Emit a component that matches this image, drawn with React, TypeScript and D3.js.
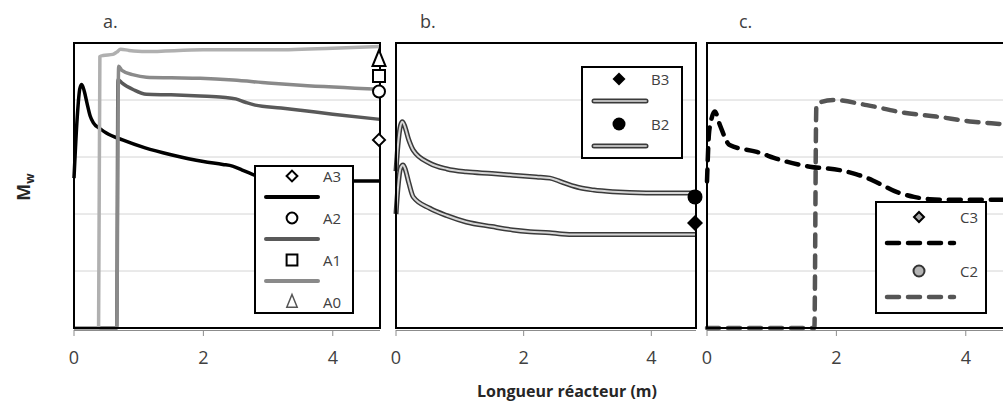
import React from "react";
import * as d3 from "d3";

// ---------- Data ----------
const panelTitles = ["a.", "b.", "c."];
const xTicks = [0, 2, 4];
const yGrid = [1, 2, 3, 4];

// Panel a
const xA3 = [0, 0.05, 0.09, 0.12, 0.16, 0.2, 0.25, 0.3, 0.4, 0.5, 0.75, 1.1, 1.5, 2.0, 2.3, 2.45, 2.6, 2.75, 2.9, 3.05, 3.2, 3.4, 4.73];
const yA3 = [2.63, 3.7, 4.2, 4.27, 4.15, 3.95, 3.72, 3.6, 3.5, 3.42, 3.3, 3.16, 3.04, 2.92, 2.87, 2.84, 2.77, 2.7, 2.64, 2.6, 2.58, 2.58, 2.58];
const xA2 = [0, 0.66, 0.68, 0.74, 0.92, 1.12, 1.5, 1.95, 2.3, 2.5, 2.65, 2.8, 3.2, 3.5, 4.0, 4.73];
const yA2 = [0, 0, 4.36, 4.3, 4.18, 4.1, 4.09, 4.07, 4.05, 4.02, 3.96, 3.91, 3.86, 3.82, 3.75, 3.66];
const xA1 = [0, 0.66, 0.69, 0.74, 0.92, 1.12, 1.5, 1.95, 2.46, 3.0, 3.5, 4.73];
const yA1 = [0, 0, 4.59, 4.52, 4.44, 4.4, 4.39, 4.38, 4.35, 4.3, 4.26, 4.19];
const xA0 = [0, 0.38, 0.4, 0.45, 0.6, 0.66, 0.72, 0.85, 1.1, 2.0, 3.0, 4.0, 4.73];
const yA0 = [0, 0, 4.76, 4.78, 4.8, 4.84, 4.89, 4.87, 4.85, 4.88, 4.88, 4.91, 4.94];
const markA = [
  { name: "A3", v: 3.3 },
  { name: "A2", v: 4.15 },
  { name: "A1", v: 4.42 },
  { name: "A0", v: 4.69 },
];

// Panel b
const xB2 = [0, 0.03, 0.07, 0.1, 0.13, 0.2, 0.27, 0.53, 0.8, 1.1, 1.5, 1.83, 2.2, 2.41, 2.55, 2.7, 2.88, 3.1, 3.4, 3.92, 4.7];
const yB2 = [2.75, 3.2, 3.55, 3.62, 3.56, 3.3, 3.12, 2.89, 2.79, 2.74, 2.71, 2.68, 2.65, 2.63, 2.58, 2.52, 2.46, 2.42, 2.39, 2.37, 2.37];
const xB3 = [0, 0.03, 0.07, 0.11, 0.14, 0.2, 0.27, 0.53, 0.8, 1.1, 1.5, 1.83, 2.1, 2.41, 2.6, 2.8, 3.2, 4.7];
const yB3 = [2.0, 2.45, 2.8, 2.86, 2.8, 2.55, 2.3, 2.1, 1.97, 1.86, 1.78, 1.72, 1.69, 1.67, 1.65, 1.64, 1.64, 1.64];
const markB = [
  { name: "B3", v: 1.84 },
  { name: "B2", v: 2.3 },
];

// Panel c
const xC3 = [0, 0.03, 0.06, 0.12, 0.2, 0.35, 0.77, 1.13, 1.59, 2.05, 2.3, 2.5, 2.72, 2.9, 3.03, 3.2, 3.44, 3.7, 4.73];
const yC3 = [2.57, 3.4, 3.62, 3.8, 3.56, 3.21, 3.09, 2.95, 2.83, 2.77, 2.7, 2.62, 2.5, 2.4, 2.35, 2.3, 2.26, 2.25, 2.25];
const xC2 = [0, 1.66, 1.69, 1.75, 1.95, 2.47, 3.03, 3.54, 4.11, 4.52, 4.73];
const yC2 = [0, 0, 3.88, 3.96, 4.0, 3.91, 3.78, 3.71, 3.62, 3.58, 3.56];
const markC = [
  { name: "C3", v: 2.25 },
  { name: "C2", v: 3.56 },
];

// ---------- Layout ----------
const W = 1003;
const H = 403;
const TOP = 43;
const BOTTOM = 328;
const yScale = d3.scaleLinear().domain([0, 5]).range([BOTTOM, TOP]);

const FONT = "'Open Sans', 'Noto Sans', sans-serif";
const TXT = "#404040";

type Pt = [number, number];
const zip = (xs: number[], ys: number[]): Pt[] => xs.map((x, i) => [x, ys[i]]);

const diamond = (r: number) => `M0,${-r}L${r},0L0,${r}L${-r},0Z`;
const square = (s: number) => `M${-s / 2},${-s / 2}h${s}v${s}h${-s}Z`;
const triangle = (w: number, h: number) => `M0,${(-2 * h) / 3}L${w / 2},${h / 3}L${-w / 2},${h / 3}Z`;
const circle = (r: number) => `M${r},0A${r},${r} 0 1,1 ${-r},0A${r},${r} 0 1,1 ${r},0Z`;

function Panel({
  x0,
  x1,
  xmax,
  title,
  titleX,
  id,
  children,
}: {
  x0: number;
  x1: number;
  xmax: number;
  title: string;
  titleX: number;
  id: string;
  children: (xs: d3.ScaleLinear<number, number>) => React.ReactNode;
}) {
  const xs = d3.scaleLinear().domain([0, xmax]).range([x0, x1]);
  return (
    <g>
      <text x={titleX} y={28} fontFamily={FONT} fontSize={18} fill={TXT}>
        {title}
      </text>
      <clipPath id={id}>
        <rect x={x0 - 3} y={TOP - 3} width={x1 - x0 + 14} height={BOTTOM - TOP + 6} />
      </clipPath>
      {yGrid.map((v) => (
        <line key={v} x1={x0} x2={x1} y1={yScale(v)} y2={yScale(v)} stroke="#d4d4d4" strokeWidth={1} />
      ))}
      <line x1={x0} x2={x1} y1={330.5} y2={330.5} stroke="#8c8c8c" strokeWidth={1} />
      {xTicks.map((t) => (
        <g key={t}>
          <line x1={xs(t)} x2={xs(t)} y1={330} y2={336} stroke="#8c8c8c" strokeWidth={1} />
          <text x={xs(t)} y={364} textAnchor="middle" fontFamily={FONT} fontSize={18} fill={TXT}>
            {t}
          </text>
        </g>
      ))}
      <g clipPath={`url(#${id})`}>{children(xs)}</g>
    </g>
  );
}

export default function App() {
  const mkLine = (xs: d3.ScaleLinear<number, number>) =>
    d3
      .line<Pt>()
      .x((d) => xs(d[0]))
      .y((d) => yScale(d[1]))
      .curve(d3.curveMonotoneX);

  const box = (x0: number, x1: number) => (
    <rect x={x0} y={TOP} width={x1 - x0} height={BOTTOM - TOP} fill="none" stroke="#000" strokeWidth={2} />
  );

  const aSeries = [
    { d: zip(xA3, yA3), c: "#000000" },
    { d: zip(xA2, yA2), c: "#595959" },
    { d: zip(xA1, yA1), c: "#8a8a8a" },
    { d: zip(xA0, yA0), c: "#b0b0b0" },
  ];
  const aMarkers = [
    (s: number) => diamond(6 * s),
    (s: number) => circle(6 * s),
    (s: number) => square(12 * s),
    (s: number) => triangle(13 * s, 16 * s),
  ];

  return (
    <svg
      width={W}
      height={H}
      style={{ position: "absolute", left: 0, top: 0, background: "#fff" }}
      xmlns="http://www.w3.org/2000/svg"
    >
      <rect x={0} y={0} width={W} height={H} fill="#fff" />

      {/* Y axis label */}
      <text
        transform="translate(30,187) rotate(-90)"
        textAnchor="middle"
        fontFamily={FONT}
        fontSize={18}
        fontWeight="bold"
        fill="#262626"
      >
        M
        <tspan fontSize={12} dy={4}>
          w
        </tspan>
      </text>

      {/* Panel a */}
      <Panel x0={74} x1={380} xmax={4.73} title={panelTitles[0]} titleX={103} id="clipA">
        {(xs) => {
          const line = mkLine(xs);
          return (
            <g>
              {aSeries.map((s, i) => (
                <path key={i} d={line(s.d) || ""} fill="none" stroke={s.c} strokeWidth={3.5} strokeLinejoin="round" />
              ))}
              {box(74, 380)}
              {markA.map((m, i) => (
                <path
                  key={m.name}
                  d={aMarkers[i](1)}
                  transform={`translate(${xs(4.73) - 1},${yScale(m.v)})`}
                  fill="#fff"
                  stroke="#000"
                  strokeWidth={2}
                />
              ))}
            </g>
          );
        }}
      </Panel>

      {/* Panel b */}
      <Panel x0={396} x1={696} xmax={4.7} title={panelTitles[1]} titleX={420} id="clipB">
        {(xs) => {
          const line = mkLine(xs);
          const series = [zip(xB3, yB3), zip(xB2, yB2)];
          return (
            <g>
              {series.map((s, i) => (
                <g key={i}>
                  <path d={line(s) || ""} fill="none" stroke="#3a3a3a" strokeWidth={5} strokeLinejoin="round" />
                  <path d={line(s) || ""} fill="none" stroke="#d6d6d6" strokeWidth={2} strokeLinejoin="round" />
                </g>
              ))}
              {box(396, 696)}
              <path d={diamond(8)} transform={`translate(${xs(4.7) - 1},${yScale(markB[0].v)})`} fill="#000" />
              <circle cx={xs(4.7) - 1} cy={yScale(markB[1].v)} r={7.5} fill="#000" />
            </g>
          );
        }}
      </Panel>

      {/* Panel c */}
      <Panel x0={707} x1={1013} xmax={4.73} title={panelTitles[2]} titleX={739} id="clipC">
        {(xs) => {
          const line = mkLine(xs);
          return (
            <g>
              <path
                d={line(zip(xC2, yC2)) || ""}
                fill="none"
                stroke="#555555"
                strokeWidth={4.5}
                strokeDasharray="12 9"
                strokeLinecap="round"
              />
              <path
                d={line(zip(xC3, yC3)) || ""}
                fill="none"
                stroke="#000"
                strokeWidth={4.5}
                strokeDasharray="12 9"
                strokeLinecap="round"
              />
              {box(707, 1013)}
              <path d={diamond(5)} transform={`translate(${xs(4.73)},${yScale(markC[0].v)})`} fill="#a6a6a6" stroke="#000" strokeWidth={2} />
              <circle cx={xs(4.73)} cy={yScale(markC[1].v)} r={5.5} fill="#b0b0b0" stroke="#333" strokeWidth={2} />
            </g>
          );
        }}
      </Panel>

      {/* Legend a */}
      <g>
        <rect x={255} y={166} width={98} height={147} fill="#fff" stroke="#000" strokeWidth={2} />
        {markA.map((m, i) => {
          const yM = 176 + i * 42;
          const yL = yM + 21;
          return (
            <g key={m.name}>
              <path
                d={aMarkers[i](i === 3 ? 0.8 : 0.9)}
                transform={`translate(292,${yM + (i === 3 ? 1 : 0)})`}
                fill="#fff"
                stroke={i === 3 ? "#555" : "#000"}
                strokeWidth={i === 3 ? 1.5 : 2}
              />
              <text x={323} y={yM} dominantBaseline="central" fontFamily={FONT} fontSize={15} fill={TXT}>
                {m.name}
              </text>
              {i < 3 && (
                <line x1={266} x2={318} y1={yL} y2={yL} stroke={aSeries[i].c} strokeWidth={4} strokeLinecap="round" />
              )}
            </g>
          );
        })}
      </g>

      {/* Legend b */}
      <g>
        <rect x={582} y={67} width={100} height={91} fill="#fff" stroke="#000" strokeWidth={2} />
        {markB.map((m, i) => {
          const yM = 79 + i * 45;
          const yL = yM + 22;
          return (
            <g key={m.name}>
              {i === 0 ? (
                <path d={diamond(6.5)} transform={`translate(619,${yM})`} fill="#000" />
              ) : (
                <circle cx={619} cy={yM} r={6.5} fill="#000" />
              )}
              <text x={651} y={yM} dominantBaseline="central" fontFamily={FONT} fontSize={15} fill={TXT}>
                {m.name}
              </text>
              <line x1={594} x2={646} y1={yL} y2={yL} stroke="#3a3a3a" strokeWidth={5} strokeLinecap="round" />
              <line x1={594} x2={646} y1={yL} y2={yL} stroke="#b8b8b8" strokeWidth={2} strokeLinecap="round" />
            </g>
          );
        })}
      </g>

      {/* Legend c */}
      <g>
        <rect x={876} y={202} width={110} height={111} fill="#fff" stroke="#000" strokeWidth={2} />
        {markC.map((m, i) => {
          const yM = 217 + i * 54;
          const yL = yM + 26;
          return (
            <g key={m.name}>
              {i === 0 ? (
                <path d={diamond(5)} transform={`translate(919,${yM})`} fill="#a6a6a6" stroke="#000" strokeWidth={2} />
              ) : (
                <circle cx={919} cy={yM} r={5.5} fill="#b4b4b4" stroke="#333" strokeWidth={2} />
              )}
              <text x={960} y={yM} dominantBaseline="central" fontFamily={FONT} fontSize={15} fill={TXT}>
                {m.name}
              </text>
              <line
                x1={887}
                x2={954}
                y1={yL}
                y2={yL}
                stroke={i === 0 ? "#000" : "#555"}
                strokeWidth={4.5}
                strokeDasharray="12 9"
                strokeLinecap="round"
              />
            </g>
          );
        })}
      </g>

      {/* X axis title */}
      <text x={567} y={397} textAnchor="middle" fontFamily={FONT} fontSize={16} fontWeight="bold" fill="#262626">
        Longueur réacteur (m)
      </text>
    </svg>
  );
}
